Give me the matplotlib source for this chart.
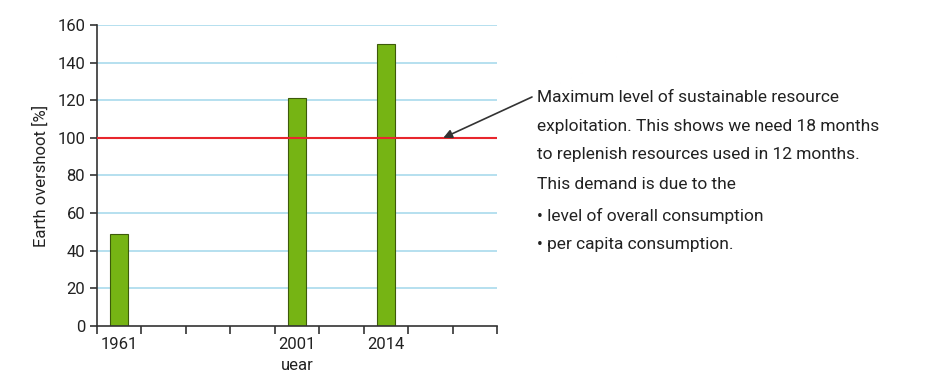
import matplotlib.pyplot as plt

# Data
years = ['1961', '2001', '2014']
slots = [0, 4, 6]          # position of each year on the 9-slot axis
overshoot = [49, 121, 150]
sustainable = 100

plt.rcParams['font.family'] = ['Roboto', 'DejaVu Sans']

fig = plt.figure(figsize=(9.26, 3.84), dpi=100)
ax = fig.add_axes([0.1048, 0.151, 0.432, 0.784])

# light blue grid lines behind the bars
for v in range(20, 161, 20):
    ax.axhline(v, color='#b5e0ef', lw=1.4, zorder=0)

ax.bar(slots, overshoot, width=0.4, color='#76b414', edgecolor='#3d5a0a',
       linewidth=0.8, zorder=2)
ax.axhline(sustainable, color='#e8262d', lw=1.5, zorder=3)

ax.set_xlim(-0.5, 8.5)
ax.set_ylim(0, 160)
ax.set_yticks(range(0, 161, 20))
ax.set_xticks([i - 0.5 for i in range(10)])
ax.set_xticklabels([])
ax.set_xticks(slots, minor=True)
ax.set_xticklabels(years, minor=True)
ax.tick_params(axis='x', which='minor', length=0, pad=8)
ax.tick_params(axis='x', which='major', length=6, width=1.2, color='#333333')
ax.tick_params(axis='y', length=5, width=1.2, color='#333333')
ax.tick_params(which='both', labelsize=12, labelcolor='#222222')

for s in ['top', 'right']:
    ax.spines[s].set_visible(False)
for s in ['left', 'bottom']:
    ax.spines[s].set_color('#333333')
    ax.spines[s].set_linewidth(1.2)

ax.set_ylabel('Earth overshoot [%]', fontsize=12, color='#222222', labelpad=6)
ax.set_xlabel('uear', fontsize=12, color='#222222', labelpad=4)

# annotation text with arrow pointing at the red line
lines = ['Maximum level of sustainable resource',
         'exploitation. This shows we need 18 months',
         'to replenish resources used in 12 months.',
         'This demand is due to the']
bullets = ['• level of overall consumption',
           '• per capita consumption.']
ytop = 1 - 97 / 384
for i, t in enumerate(lines):
    fig.text(537 / 926, ytop - i * 29 / 384, t, fontsize=12.5,
             color='#222222', va='center')
for i, t in enumerate(bullets):
    fig.text(537 / 926, 1 - (216 + i * 28) / 384, t, fontsize=12.5,
             color='#222222', va='center')

ax.annotate('', xy=(7.29, sustainable), xycoords='data',
            xytext=(532 / 926, 1 - 97 / 384), textcoords='figure fraction',
            arrowprops=dict(arrowstyle='-|>', color='#333333', lw=1.2,
                            mutation_scale=13, shrinkA=0, shrinkB=0))

fig.savefig('out.png', dpi=100)
